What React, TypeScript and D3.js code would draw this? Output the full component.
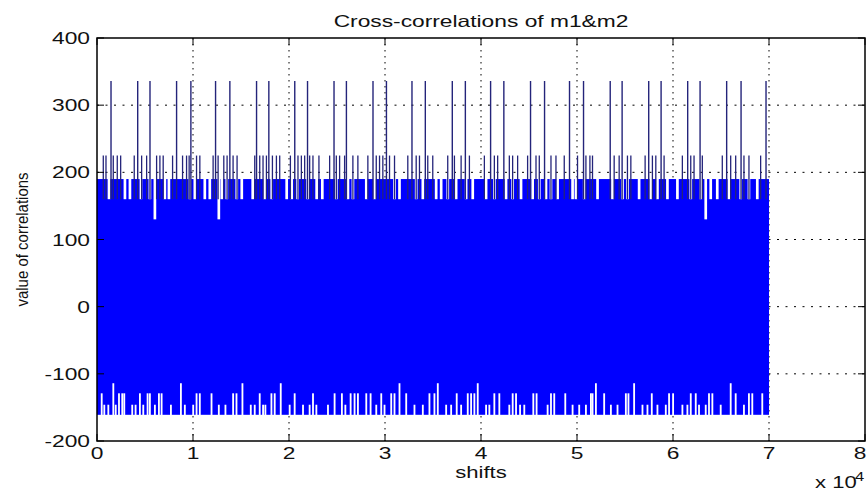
import * as d3 from 'd3';

const width = 868;
const height = 492;
const margin = { top: 38, right: 2, bottom: 51, left: 97 };
const blue = '#0000ff';
const navy = '#24247a';
const font = 'Liberation Sans, Arial, Helvetica, sans-serif';
const stretch = 1.38;

const xTicks = [0, 10000, 20000, 30000, 40000, 50000, 60000, 70000, 80000];
const xTickLabels = ['0', '1', '2', '3', '4', '5', '6', '7', '8'];
const yTicks = [-200, -100, 0, 100, 200, 300, 400];

// signal extent
const lastShift = 70000;
const bandLow = -161;
const bandHigh = 190;
const notchLevel = 160;
const deepNotchLevel = 130;
const spikeLevel = 225;
const peakLevel = 336;

// tall correlation peaks
const peakShifts = [1460, 4240, 5520, 8290, 9780, 12350, 13840, 16620, 17900, 20600, 21930, 24690, 25980, 28750, 30150, 32810, 34200, 37010, 38370, 41000, 42380, 45160, 46620, 49220, 50680, 53460, 54700, 57470, 58760, 61530, 62820, 65590, 67090, 69690];

// secondary peaks (~225)
const spikeShifts = [655, 936, 1695, 2111, 2465, 3879, 4649, 5169, 6209, 6552, 6895, 7873, 8913, 9329, 9599, 10369, 10712, 12095, 12615, 13208, 13551, 14175, 14591, 16432, 16952, 17295, 17649, 18273, 18689, 19032, 20145, 20935, 21289, 21632, 22152, 22495, 23119, 24232, 24929, 25272, 25792, 26655, 27175, 28215, 29089, 29432, 29775, 30472, 30992, 32375, 33249, 33592, 34455, 34975, 36535, 37232, 37929, 38792, 40352, 41392, 41735, 42952, 43295, 43815, 44855, 45729, 46072, 47289, 47809, 48672, 50055, 50929, 51345, 51615, 53872, 54392, 55255, 55609, 57096, 57855, 58209, 59072, 60975, 61849, 62192, 63055, 65135, 66009, 66529, 67392, 67912, 69129];

// places where the upper envelope drops to ~160 / ~130
const notchShifts = [1250, 2910, 3430, 4580, 5510, 7070, 7490, 9670, 10190, 11230, 11750, 13000, 13520, 14560, 15080, 16220, 17470, 18200, 19760, 20280, 20900, 21940, 22880, 23470, 24930, 26140, 26660, 28050, 28910, 30990, 31510, 33250, 33940, 35330, 35850, 36540, 37410, 38450, 39140, 40530, 41390, 42610, 43300, 44170, 45380, 46070, 46770, 47290, 47980, 49540, 49890, 50750, 52140, 53700, 54740, 55260, 56470, 57690, 58380, 59420, 60460, 61850, 62890, 63930, 64610, 65830, 67050, 67910, 68780];
const deepNotchShifts = [6030, 12690, 63410];

// lower envelope gaps
const lowTallShifts = [1700, 8740, 15150, 19140, 31510, 35500, 39660, 51970, 55950, 66010];
const lowTallValue = -114;
const lowMidShifts = [490, 2290, 2630, 2840, 4470, 5270, 5510, 6450, 6730, 10370, 10710, 11930, 14180, 14530, 16950, 18170, 18510, 20590, 22500, 24750, 25510, 26420, 26830, 27180, 28050, 28500, 29610, 30650, 30990, 32210, 34630, 35150, 37470, 38620, 38970, 39310, 41390, 41910, 43300, 43650, 45450, 45790, 47290, 47630, 48780, 51450, 51620, 52830, 55090, 55360, 57790, 59590, 60010, 61850, 62370, 63750, 64100, 66530, 67910, 68260, 69300];
const lowMidValue = -129;
const lowShortShifts = [760, 1180, 1950, 3670, 4020, 4820, 6030, 7700, 9150, 10020, 12690, 13380, 16020, 16430, 17300, 17540, 20070, 21460, 22150, 22850, 24060, 25870, 29090, 29950, 33070, 33940, 36370, 36890, 37930, 40530, 40870, 42950, 44070, 44510, 46940, 49540, 50230, 50930, 53530, 54220, 56820, 57340, 58380, 59250, 60980, 61500, 62710, 63410, 64970, 67390];
const lowShortValue = -146;

export default function App() {
    const x = d3.scaleLinear().domain([0, 80000]).range([margin.left, width - margin.right - 1]);
    const y = d3.scaleLinear().domain([-200, 400]).range([height - margin.bottom, margin.top]);
    const x0 = x(0), x1 = x(80000);
    const y0 = y(-200), y1 = y(400);
    const notchW = x(280) - x(0);
    const gapW = x(190) - x(0);

    const lowerGaps = [
        ...lowTallShifts.map(s => [s, lowTallValue]),
        ...lowMidShifts.map(s => [s, lowMidValue]),
        ...lowShortShifts.map(s => [s, lowShortValue]),
    ];
    const notches = [
        ...notchShifts.map(s => [s, notchLevel]),
        ...deepNotchShifts.map(s => [s, deepNotchLevel]),
    ];

    return (
        <svg width={width} height={height} style={{ position: 'absolute', left: 0, top: 0, background: '#fff' }}
            fontFamily={font}>
            <rect width={width} height={height} fill="#fff" />

            {/* grid */}
            {xTicks.slice(1, -1).map(t => (
                <line key={'gx' + t} x1={x(t)} x2={x(t)} y1={y1} y2={y0}
                    stroke="#000" strokeWidth={1} strokeDasharray="1.5,4.5" />
            ))}
            {yTicks.slice(1, -1).map(t => (
                <line key={'gy' + t} x1={x0} x2={x1} y1={y(t)} y2={y(t)}
                    stroke="#000" strokeWidth={1} strokeDasharray="2,6.5" />
            ))}

            {/* signal band */}
            <rect x={x(0)} width={x(lastShift) - x(0)} y={y(bandHigh)} height={y(bandLow) - y(bandHigh)} fill={blue} />

            {notches.map(([s, v], i) => (
                <rect key={'n' + i} x={x(s) - notchW / 2} width={notchW}
                    y={y(bandHigh) - 0.5} height={y(v) - y(bandHigh) + 0.5} fill="#fff" />
            ))}
            {lowerGaps.map(([s, v], i) => (
                <rect key={'l' + i} x={x(s) - gapW / 2} width={gapW}
                    y={y(v)} height={y(bandLow) - y(v) + 0.5} fill="#fff" />
            ))}

            {spikeShifts.map((s, i) => (
                <line key={'s' + i} x1={x(s)} x2={x(s)} y1={y(spikeLevel)} y2={y(notchLevel)}
                    stroke={navy} strokeWidth={1.3} />
            ))}
            {peakShifts.map((s, i) => (
                <line key={'p' + i} x1={x(s)} x2={x(s)} y1={y(peakLevel)} y2={y(notchLevel)}
                    stroke={navy} strokeWidth={1.4} />
            ))}

            {/* axes box */}
            <rect x={x0} y={y1} width={x1 - x0} height={y0 - y1} fill="none" stroke="#000" strokeWidth={1.5} />
            {xTicks.map(t => (
                <g key={'tx' + t}>
                    <line x1={x(t)} x2={x(t)} y1={y0} y2={y0 - 7} stroke="#000" />
                    <line x1={x(t)} x2={x(t)} y1={y1} y2={y1 + 7} stroke="#000" />
                </g>
            ))}
            {yTicks.map(t => (
                <g key={'ty' + t}>
                    <line x1={x0} x2={x0 + 7} y1={y(t)} y2={y(t)} stroke="#000" />
                    <line x1={x1} x2={x1 - 7} y1={y(t)} y2={y(t)} stroke="#000" />
                </g>
            ))}

            {/* tick labels */}
            {xTicks.map((t, i) => (
                <text key={'lx' + t} transform={`translate(${Math.min(x(t), 860)},${y0 + 18}) scale(${stretch},1)`}
                    textAnchor="middle" fontSize={16.5} fill="#111">{xTickLabels[i]}</text>
            ))}
            {yTicks.map(t => (
                <text key={'ly' + t} transform={`translate(${x0 - 7},${y(t) + 6}) scale(${stretch},1)`}
                    textAnchor="end" fontSize={16.5} fill="#111">{t}</text>
            ))}

            {/* titles */}
            <text transform={`translate(${(x0 + x1) / 2},27) scale(${stretch},1)`} textAnchor="middle"
                fontSize={16.5} fill="#111">Cross-correlations of m1&amp;m2</text>
            <text transform={`translate(${(x0 + x1) / 2},478) scale(${stretch},1)`} textAnchor="middle"
                fontSize={16} fill="#111">shifts</text>
            <text transform={`translate(28,${(y0 + y1) / 2}) scale(1.15,1) rotate(-90)`} textAnchor="middle"
                fontSize={15} fill="#111">value of correlations</text>
            <text transform={`translate(815,488) scale(${stretch},1)`} fontSize={16} fill="#111">x 10</text>
            <text transform={`translate(855,481) scale(${stretch},1)`} fontSize={12} fill="#111">4</text>
        </svg>
    );
}
